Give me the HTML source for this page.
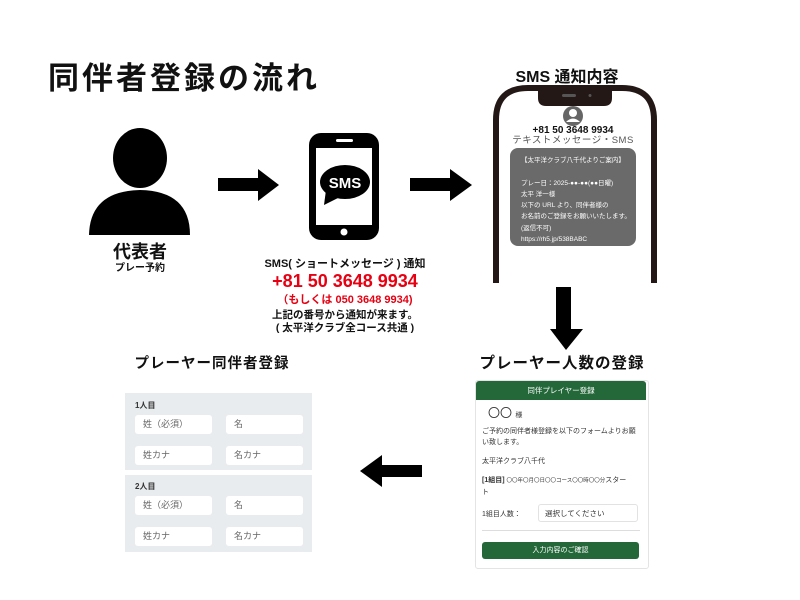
<!DOCTYPE html>
<html><head><meta charset="utf-8"><style>
body{margin:0;width:800px;height:600px;background:#fff;position:relative;overflow:hidden;font-family:"Liberation Sans","Noto Sans CJK JP",sans-serif;color:#111}
.a{position:absolute;white-space:nowrap}
.c{transform:translateX(-50%)}
.inp{position:absolute;background:#fff;border-radius:3px;font-size:9px;color:#666;padding-left:8px;box-sizing:border-box;line-height:18px;height:19px}
</style></head><body>
<div class="a" style="left:48px;top:53px;font-size:31px;font-weight:bold;letter-spacing:3px">同伴者登録の流れ</div>

<svg class="a" style="left:0;top:0" width="800" height="600">
<ellipse cx="140" cy="158" rx="27" ry="30" fill="#000"/>
<path d="M89 235 Q90 191 140 190 Q190 191 190 235 Z" fill="#000"/>
<rect x="218" y="178" width="42" height="13" fill="#000"/>
<polygon points="258,169 279,185 258,201" fill="#000"/>
<rect x="309" y="133" width="70" height="107" rx="12" fill="#000"/>
<rect x="316" y="148" width="56" height="77" fill="#fff"/>
<rect x="336" y="139" width="17" height="3" rx="1.5" fill="#fff"/>
<circle cx="344" cy="232" r="3.5" fill="#fff"/>
<ellipse cx="345" cy="182" rx="25" ry="17" fill="#000"/>
<path d="M326 190 L324 205 L340 197 Z" fill="#000"/>
<text x="345" y="188" font-size="15" font-weight="bold" fill="#fff" text-anchor="middle" font-family="Liberation Sans">SMS</text>
<rect x="410" y="178" width="42" height="13" fill="#000"/>
<polygon points="450,169 472,185 450,201" fill="#000"/>
<path d="M496 283 L496 120 Q496 88 528 88 L622 88 Q654 88 654 120 L654 283" fill="none" stroke="#231815" stroke-width="6"/>
<path d="M538 88 L612 88 L612 98 Q612 106 604 106 L546 106 Q538 106 538 98 Z" fill="#231815"/>
<rect x="562" y="94" width="14" height="3" rx="1.5" fill="#555"/>
<circle cx="590" cy="95.5" r="1.5" fill="#555"/>
<circle cx="573" cy="116" r="10" fill="#666"/>
<circle cx="573" cy="113" r="4" fill="#fff"/>
<path d="M566 122 Q573 115 580 122 Z" fill="#fff"/>
<rect x="510" y="148" width="126" height="98" rx="8" fill="#6a6a6a"/>
<rect x="556" y="287" width="15" height="44" fill="#000"/>
<polygon points="550,329 583,329 566,350" fill="#000"/>
<rect x="380" y="465" width="42" height="12" fill="#000"/>
<polygon points="382,455 382,487 360,471" fill="#000"/>
</svg>

<div class="a c" style="left:140px;top:238px;font-size:18px;font-weight:bold">代表者</div>
<div class="a c" style="left:140px;top:259px;font-size:10px;font-weight:bold">プレー予約</div>

<div class="a c" style="left:345px;top:255px;font-size:11px;font-weight:bold">SMS( ショートメッセージ ) 通知</div>
<div class="a c" style="left:345px;top:271px;font-size:18px;font-weight:bold;color:#e60012">+81 50 3648 9934</div>
<div class="a c" style="left:345px;top:291px;font-size:11px;font-weight:bold;color:#e60012">（もしくは 050 3648 9934)</div>
<div class="a c" style="left:345px;top:307px;font-size:10.5px;font-weight:bold">上記の番号から通知が来ます。</div>
<div class="a c" style="left:345px;top:320px;font-size:10.5px;font-weight:bold">( 太平洋クラブ全コース共通 )</div>

<div class="a c" style="left:567px;top:63px;font-size:16px;font-weight:bold">SMS 通知内容</div>
<div class="a c" style="left:573px;top:125px;font-size:10px;font-weight:bold">+81 50 3648 9934</div>
<div class="a c" style="left:573px;top:135px;font-size:9.5px;color:#555;letter-spacing:0.5px;line-height:12px">テキストメッセージ・SMS</div>
<div class="a" style="left:521px;top:155px;font-size:6.5px;color:#fff;line-height:11.3px">【太平洋クラブ八千代よりご案内】<br><br>プレー日：2025-●●-●●(●●日曜)<br>太平 洋一様<br>以下の URL より、同伴者様の<br>お名前のご登録をお願いいたします。<br>(返信不可)<br>https://rh5.jp/538BABC</div>

<div class="a c" style="left:562px;top:351px;font-size:15.5px;font-weight:bold;letter-spacing:1px">プレーヤー人数の登録</div>
<div class="a c" style="left:212px;top:352px;font-size:14.5px;font-weight:bold;letter-spacing:1px">プレーヤー同伴者登録</div>

<div class="a" style="left:475px;top:380px;width:172px;height:187px;border:1px solid #e4e4e4;border-radius:3px;background:#fff"></div>
<div class="a" style="left:476px;top:381px;width:170px;height:19px;background:#24683a;border-radius:3px 3px 0 0;color:#fff;font-size:7.5px;text-align:center;line-height:19px">同伴プレイヤー登録</div>
<div class="a" style="left:488px;top:404px;font-size:12px;color:#333">〇〇 <span style="font-size:7px">様</span></div>
<div class="a" style="left:482px;top:426px;font-size:7px;color:#333;line-height:11px">ご予約の同伴者様登録を以下のフォームよりお願<br>い致します。</div>
<div class="a" style="left:482px;top:456px;font-size:7px;color:#333">太平洋クラブ八千代</div>
<div class="a" style="left:482px;top:475px;font-size:7px;color:#333;line-height:11px"><b>[1組目]</b> <span style="font-size:5.5px">〇〇年〇月〇日〇〇コース〇〇時〇〇分</span>スター<br>ト</div>
<div class="a" style="left:482px;top:509px;font-size:7px;color:#333">1組目人数：</div>
<div class="a" style="left:538px;top:504px;width:100px;height:18px;border:1px solid #e2e2e2;border-radius:3px;font-size:7.5px;color:#333;line-height:18px;padding-left:6px;box-sizing:border-box">選択してください</div>
<div class="a" style="left:482px;top:530px;width:158px;height:1px;background:#ddd"></div>
<div class="a" style="left:482px;top:542px;width:157px;height:17px;background:#24683a;border-radius:3px;color:#fff;font-size:7px;text-align:center;line-height:17px">入力内容のご確認</div>

<div class="a" style="left:125px;top:393px;width:187px;height:77px;background:#e9ecef"></div>
<div class="a" style="left:125px;top:475px;width:187px;height:77px;background:#e9ecef"></div>
<div class="a" style="left:135px;top:400px;font-size:8px;font-weight:bold;color:#333">1人目</div>
<div class="inp" style="left:135px;top:415px;width:77px">姓（必須）</div>
<div class="inp" style="left:226px;top:415px;width:77px">名</div>
<div class="inp" style="left:135px;top:446px;width:77px">姓カナ</div>
<div class="inp" style="left:226px;top:446px;width:77px">名カナ</div>
<div class="a" style="left:135px;top:481px;font-size:8px;font-weight:bold;color:#333">2人目</div>
<div class="inp" style="left:135px;top:496px;width:77px">姓（必須）</div>
<div class="inp" style="left:226px;top:496px;width:77px">名</div>
<div class="inp" style="left:135px;top:527px;width:77px">姓カナ</div>
<div class="inp" style="left:226px;top:527px;width:77px">名カナ</div>
</body></html>
